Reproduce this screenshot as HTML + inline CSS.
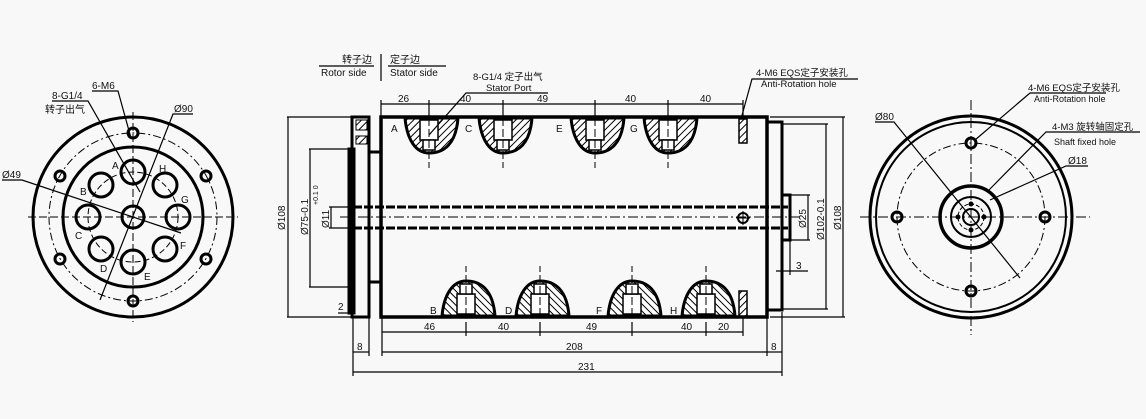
<!DOCTYPE html>
<html><head><meta charset="utf-8"><style>
html,body{margin:0;padding:0;background:#f7f8f7;}
svg{display:block}
text{font-family:"Liberation Sans","Noto Sans CJK SC",sans-serif;fill:#111;}
</style></head><body>
<svg width="1146" height="419" viewBox="0 0 1146 419" xmlns="http://www.w3.org/2000/svg">
<defs>
<pattern id="h" width="5" height="5" patternUnits="userSpaceOnUse" patternTransform="rotate(45)"><rect width="5" height="5" fill="#fff"/><line x1="0" y1="0" x2="0" y2="5" stroke="#000" stroke-width="2"/></pattern>
<g id="portT">
<path d="M-24 0 C-22 22,-13 35,0 35 C15 35,27 26,29 0 Z" fill="url(#h)" stroke="#000" stroke-width="3"/>
<rect x="-9" y="2" width="18" height="20" fill="#fff" stroke="#000" stroke-width="1.5"/>
<rect x="-6" y="22" width="12" height="10" fill="#fff" stroke="#000" stroke-width="1.5"/>
<line x1="0" y1="0" x2="0" y2="50" stroke="#000" stroke-width="1" stroke-dasharray="8,3"/>
</g>
</defs>
<g fill="none" stroke="#000">
<!-- LEFT VIEW -->
<circle cx="133" cy="217" r="100" stroke-width="3"/>
<circle cx="133" cy="217" r="70" stroke-width="3"/>
<circle cx="133" cy="217" r="84" stroke-width="1" stroke-dasharray="8,3,2,3"/>
<circle cx="133" cy="217" r="45" stroke-width="1" stroke-dasharray="6,3"/>
<g stroke-width="3">
<circle cx="133" cy="133" r="5"/><circle cx="133" cy="301" r="5"/>
<circle cx="60" cy="176" r="5"/><circle cx="60" cy="259" r="5"/>
<circle cx="206" cy="176" r="5"/><circle cx="206" cy="259" r="5"/>
<circle cx="133" cy="217" r="11"/>
<circle cx="133" cy="172" r="12"/><circle cx="165" cy="185" r="12"/><circle cx="178" cy="217" r="12"/><circle cx="165" cy="249" r="12"/>
<circle cx="133" cy="262" r="12"/><circle cx="101" cy="249" r="12"/><circle cx="88" cy="217" r="12"/><circle cx="101" cy="185" r="12"/>
</g>
<line x1="28" y1="217" x2="238" y2="217" stroke-width="1" stroke-dasharray="8,3"/>
<line x1="133" y1="112" x2="133" y2="322" stroke-width="1" stroke-dasharray="8,3"/>
<g stroke-width="1.2">
<polyline points="92,91 118,91 131,138"/>
<polyline points="52,101 88,101 140,192"/>
<polyline points="174,114 193,114 173,114 100,300"/>
<polyline points="2,180 22,180 181,233"/>
</g>
<!-- MIDDLE VIEW -->
<rect x="381" y="117" width="386" height="200" stroke-width="3.5"/>
<rect x="352" y="117" width="17" height="200" stroke-width="3"/>
<rect x="348" y="148" width="7" height="166" fill="#000"/>
<rect x="369" y="152" width="12" height="130" stroke-width="3"/>
<rect x="356" y="120" width="11" height="10" fill="url(#h)" stroke-width="1"/>
<rect x="356" y="136" width="11" height="8" fill="url(#h)" stroke-width="1"/>
<line x1="353" y1="207" x2="788" y2="207" stroke-width="3" stroke-dasharray="9,2"/>
<line x1="353" y1="228" x2="788" y2="228" stroke-width="3" stroke-dasharray="9,2"/>
<line x1="340" y1="217" x2="800" y2="217" stroke-width="1" stroke-dasharray="10,3,2,3"/>
<circle cx="743" cy="218" r="5" stroke-width="2"/>
<line x1="736" y1="218" x2="750" y2="218" stroke-width="1"/><line x1="743" y1="211" x2="743" y2="225" stroke-width="1"/>
<rect x="767" y="122" width="15" height="188" stroke-width="3"/>
<rect x="782" y="195" width="8" height="45" stroke-width="3"/>
<rect x="739" y="119" width="8" height="24" fill="url(#h)" stroke-width="1.5"/>
<rect x="739" y="291" width="8" height="25" fill="url(#h)" stroke-width="1.5"/>
</g>
<use href="#portT" x="429" y="118"/><use href="#portT" x="503" y="118"/><use href="#portT" x="595" y="118"/><use href="#portT" x="668" y="118"/>
<use href="#portT" transform="translate(466,316) scale(1,-1)"/><use href="#portT" transform="translate(540,316) scale(1,-1)"/><use href="#portT" transform="translate(632,316) scale(1,-1)"/><use href="#portT" transform="translate(706,316) scale(1,-1)"/>
<g fill="none" stroke="#000" stroke-width="1.2">
<line x1="381" y1="104" x2="743" y2="104"/>
<line x1="381" y1="100" x2="381" y2="117"/><line x1="429" y1="100" x2="429" y2="117"/><line x1="503" y1="100" x2="503" y2="117"/><line x1="595" y1="100" x2="595" y2="117"/><line x1="668" y1="100" x2="668" y2="117"/><line x1="743" y1="100" x2="743" y2="117"/>
<line x1="382" y1="332" x2="743" y2="332"/>
<line x1="382" y1="318" x2="382" y2="356"/><line x1="466" y1="322" x2="466" y2="336"/><line x1="540" y1="322" x2="540" y2="336"/><line x1="632" y1="322" x2="632" y2="336"/><line x1="706" y1="322" x2="706" y2="336"/><line x1="743" y1="318" x2="743" y2="336"/>
<line x1="382" y1="352" x2="767" y2="352"/><line x1="767" y1="318" x2="767" y2="356"/>
<line x1="353" y1="372" x2="782" y2="372"/><line x1="353" y1="318" x2="353" y2="376"/><line x1="782" y1="312" x2="782" y2="376"/><line x1="369" y1="318" x2="369" y2="356"/>
<line x1="353" y1="352" x2="369" y2="352"/><line x1="767" y1="352" x2="782" y2="352"/>
<line x1="287" y1="117" x2="352" y2="117"/><line x1="287" y1="317" x2="352" y2="317"/><line x1="288" y1="117" x2="288" y2="317"/>
<line x1="309" y1="149" x2="348" y2="149"/><line x1="309" y1="287" x2="348" y2="287"/><line x1="310" y1="149" x2="310" y2="287"/>
<line x1="329" y1="207" x2="353" y2="207"/><line x1="329" y1="228" x2="353" y2="228"/><line x1="331" y1="207" x2="331" y2="228"/>
<line x1="338" y1="313" x2="352" y2="313"/>
<line x1="770" y1="117" x2="845" y2="117"/><line x1="770" y1="317" x2="845" y2="317"/><line x1="843" y1="117" x2="843" y2="317"/>
<line x1="782" y1="124" x2="828" y2="124"/><line x1="782" y1="309" x2="828" y2="309"/><line x1="826" y1="124" x2="826" y2="309"/>
<line x1="790" y1="195" x2="810" y2="195"/><line x1="790" y1="240" x2="810" y2="240"/><line x1="808" y1="195" x2="808" y2="240"/>
<line x1="776" y1="271" x2="808" y2="271"/><line x1="790" y1="240" x2="790" y2="275"/>
<line x1="319" y1="66" x2="374" y2="66"/><line x1="388" y1="66" x2="446" y2="66"/><line x1="381" y1="54" x2="381" y2="81"/>
<polyline points="429,135 466,93 548,93"/>
<polyline points="741,119 752,79 858,79"/>
<!-- RIGHT VIEW -->
<circle cx="971" cy="217" r="101" stroke-width="3"/>
<circle cx="971" cy="217" r="95" stroke-width="2"/>
<circle cx="971" cy="217" r="74" stroke-width="1" stroke-dasharray="8,3,2,3"/>
<circle cx="971" cy="217" r="31" stroke-width="3.5"/>
<circle cx="971" cy="217" r="20" stroke-width="2"/>
<circle cx="971" cy="217" r="13" stroke-width="1" stroke-dasharray="4,2"/>
<circle cx="971" cy="217" r="8" stroke-width="2"/>
<g stroke-width="3"><circle cx="897" cy="217" r="5"/><circle cx="1045" cy="217" r="5"/><circle cx="971" cy="143" r="5"/><circle cx="971" cy="291" r="5"/></g>
<g fill="#000" stroke="none"><circle cx="971" cy="204" r="2.5"/><circle cx="971" cy="230" r="2.5"/><circle cx="958" cy="217" r="2.5"/><circle cx="984" cy="217" r="2.5"/></g>
<line x1="860" y1="217" x2="1090" y2="217" stroke-width="1" stroke-dasharray="10,3,2,3"/>
<line x1="971" y1="100" x2="971" y2="335" stroke-width="1" stroke-dasharray="10,3,2,3"/>
<polyline points="875,122 894,122 1020,278"/>
<polyline points="1106,93 1030,93 975,140"/>
<polyline points="1140,132 1046,132 987,192"/>
<polyline points="1088,166 1066,166 990,200"/>
</g>
<g font-size="10">
<text x="92" y="89">6-M6</text>
<text x="52" y="99">8-G1/4</text>
<text x="45" y="113">转子出气</text>
<text x="174" y="112">Ø90</text>
<text x="2" y="178">Ø49</text>
<text x="112" y="169">A</text><text x="159" y="172">H</text><text x="80" y="195">B</text><text x="181" y="203">G</text>
<text x="75" y="239">C</text><text x="180" y="249">F</text><text x="100" y="272">D</text><text x="144" y="280">E</text>
<text x="342" y="63">转子边</text><text x="390" y="63">定子边</text>
<text x="321" y="76">Rotor side</text><text x="390" y="76">Stator side</text>
<text x="473" y="80" font-size="9.5">8-G1/4 定子出气</text>
<text x="486" y="91" font-size="9.5">Stator Port</text>
<text x="756" y="76" font-size="9.5">4-M6 EQS定子安装孔</text>
<text x="761" y="87" font-size="9.5">Anti-Rotation hole</text>
<text x="398" y="102">26</text><text x="460" y="102">40</text><text x="537" y="102">49</text><text x="625" y="102">40</text><text x="700" y="102">40</text>
<text x="391" y="132">A</text><text x="465" y="132">C</text><text x="556" y="132">E</text><text x="630" y="132">G</text>
<text x="430" y="314">B</text><text x="505" y="314">D</text><text x="596" y="314">F</text><text x="670" y="314">H</text>
<text x="424" y="330">46</text><text x="498" y="330">40</text><text x="586" y="330">49</text><text x="681" y="330">40</text><text x="718" y="330">20</text>
<text x="357" y="350">8</text><text x="771" y="350">8</text>
<text x="566" y="350">208</text><text x="578" y="370">231</text>
<text x="338" y="310">2</text>
<text x="796" y="269">3</text>
<text transform="translate(285,230) rotate(-90)">Ø108</text>
<text transform="translate(308,235) rotate(-90)">Ø75-0.1</text>
<text transform="translate(329,228) rotate(-90)">Ø11</text>
<text transform="translate(318,205) rotate(-90)" font-size="7">+0.1 0</text>
<text transform="translate(806,228) rotate(-90)">Ø25</text>
<text transform="translate(824,240) rotate(-90)">Ø102-0.1</text>
<text transform="translate(841,230) rotate(-90)">Ø108</text>
<text x="875" y="120">Ø80</text>
<text x="1028" y="91" font-size="9.5">4-M6 EQS定子安装孔</text>
<text x="1034" y="102" font-size="9">Anti-Rotation hole</text>
<text x="1052" y="130" font-size="9.5" font-family="Liberation Mono,Noto Sans CJK SC,monospace">4-M3 旋转轴固定孔</text>
<text x="1054" y="145" font-size="9" font-family="Liberation Mono,monospace">Shaft fixed hole</text>
<text x="1068" y="164">Ø18</text>
</g>
</svg>
</body></html>
